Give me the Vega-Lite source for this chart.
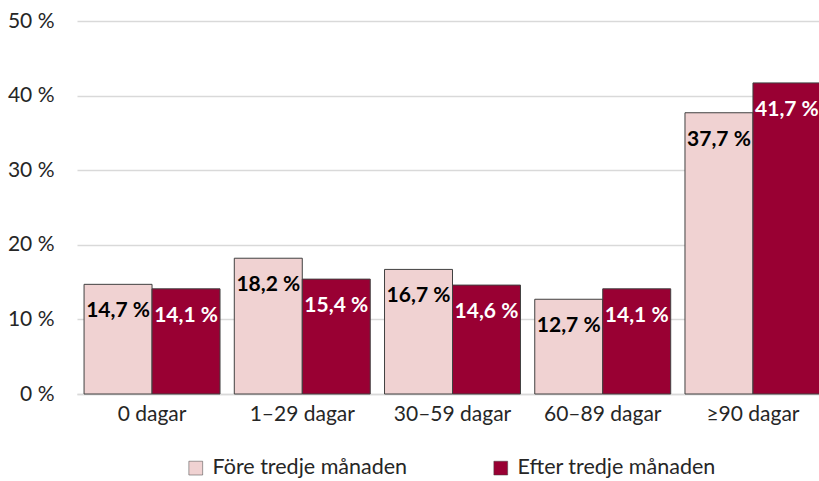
{
  "$schema": "https://vega.github.io/schema/vega-lite/v6.json",
  "width": 751,
  "height": 373,
  "autosize": "none",
  "padding": {"left": 77, "top": 21, "right": 0, "bottom": 87},
  "background": "white",
  "config": {
    "view": {"stroke": null},
    "font": "Lato",
    "axis": {"labelFont": "Lato", "labelFontSize": 21, "labelColor": "#262626"},
    "legend": {"labelFont": "Lato", "labelFontSize": 21.5, "labelColor": "#262626"}
  },
  "data": {
    "values": [
      {"kategori": "0 dagar", "serie": "Före tredje månaden", "andel": 14.7},
      {"kategori": "0 dagar", "serie": "Efter tredje månaden", "andel": 14.1},
      {"kategori": "1–29 dagar", "serie": "Före tredje månaden", "andel": 18.2},
      {"kategori": "1–29 dagar", "serie": "Efter tredje månaden", "andel": 15.4},
      {"kategori": "30–59 dagar", "serie": "Före tredje månaden", "andel": 16.7},
      {"kategori": "30–59 dagar", "serie": "Efter tredje månaden", "andel": 14.6},
      {"kategori": "60–89 dagar", "serie": "Före tredje månaden", "andel": 12.7},
      {"kategori": "60–89 dagar", "serie": "Efter tredje månaden", "andel": 14.1},
      {"kategori": "≥90 dagar", "serie": "Före tredje månaden", "andel": 37.7},
      {"kategori": "≥90 dagar", "serie": "Efter tredje månaden", "andel": 41.7}
    ]
  },
  "transform": [
    {"calculate": "replace(format(datum.andel, '.1f'), '.', ',') + ' %'", "as": "etikett"}
  ],
  "encoding": {
    "x": {
      "field": "kategori",
      "type": "nominal",
      "sort": ["0 dagar", "1–29 dagar", "30–59 dagar", "60–89 dagar", "≥90 dagar"],
      "scale": {"paddingInner": 0.095, "paddingOuter": 0.047},
      "axis": {
        "title": null,
        "labelAngle": 0,
        "ticks": false,
        "domainColor": "#d9d9d9",
        "domainWidth": 1.5,
        "labelPadding": 9
      }
    },
    "xOffset": {
      "field": "serie",
      "type": "nominal",
      "sort": ["Före tredje månaden", "Efter tredje månaden"]
    },
    "y": {
      "field": "andel",
      "type": "quantitative",
      "scale": {"domain": [0, 50]},
      "axis": {
        "title": null,
        "values": [0, 10, 20, 30, 40, 50],
        "labelExpr": "datum.value + ' %'",
        "domain": false,
        "ticks": false,
        "gridColor": "#d9d9d9",
        "gridWidth": 1.5,
        "labelPadding": 23
      }
    }
  },
  "layer": [
    {
      "mark": {"type": "bar", "stroke": "#404040", "strokeWidth": 1},
      "encoding": {
        "color": {
          "field": "serie",
          "type": "nominal",
          "sort": ["Före tredje månaden", "Efter tredje månaden"],
          "scale": {"domain": ["Före tredje månaden", "Efter tredje månaden"], "range": ["#f0d2d2", "#990033"]},
          "legend": {
            "title": null,
            "orient": "none",
            "direction": "horizontal",
            "legendX": 108,
            "legendY": 436,
            "symbolType": "square",
            "symbolSize": 190,
            "symbolStrokeColor": "#404040",
            "symbolStrokeWidth": 0.5,
            "labelOffset": 6,
            "columnPadding": 82,
            "labelLimit": 300
          }
        }
      }
    },
    {
      "mark": {"type": "text", "baseline": "middle", "align": "center", "dy": 27, "fontWeight": "bold", "fontSize": 21, "font": "Lato"},
      "encoding": {
        "text": {"field": "etikett"},
        "color": {
          "condition": {"test": "datum.serie === 'Efter tredje månaden'", "value": "white"},
          "value": "black"
        }
      }
    }
  ]
}
